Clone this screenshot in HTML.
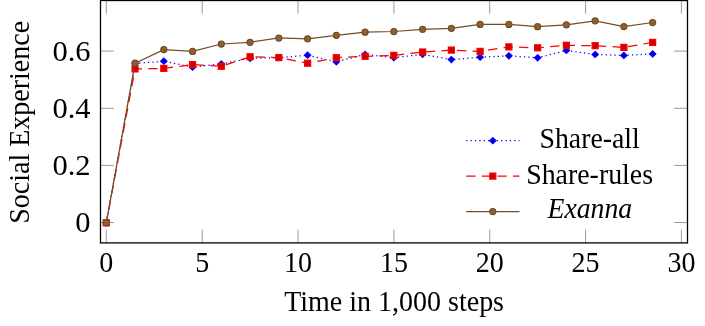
<!DOCTYPE html>
<html><head><meta charset="utf-8"><title>Social Experience</title>
<style>html,body{margin:0;padding:0;background:#fff;}body{width:705px;height:326px;overflow:hidden;position:relative;font-family:"Liberation Serif",serif;}svg{position:absolute;left:0;top:0;display:block;will-change:transform;}text{font-family:"Liberation Serif",serif;fill:#000;}</style></head><body>
<svg width="705" height="326" viewBox="0 0 705 326">
<rect x="0" y="0" width="705" height="326" fill="#fff"/>
<g stroke="#707070" stroke-width="0.7" fill="none">
<path d="M106.3 242.9V229.6M106.3 0.5V13.8"/>
<path d="M202.2 242.9V229.6M202.2 0.5V13.8"/>
<path d="M298.0 242.9V229.6M298.0 0.5V13.8"/>
<path d="M393.9 242.9V229.6M393.9 0.5V13.8"/>
<path d="M489.7 242.9V229.6M489.7 0.5V13.8"/>
<path d="M585.6 242.9V229.6M585.6 0.5V13.8"/>
<path d="M681.4 242.9V229.6M681.4 0.5V13.8"/>
<path d="M100.5 222.5H113.8M687.5 222.5H674.2"/>
<path d="M100.5 165.4H113.8M687.5 165.4H674.2"/>
<path d="M100.5 108.3H113.8M687.5 108.3H674.2"/>
<path d="M100.5 51.1H113.8M687.5 51.1H674.2"/>
</g>
<rect x="100.5" y="0.5" width="587" height="242.4" fill="none" stroke="#000" stroke-width="1.3"/>
<polyline points="106.3,222.8 135.1,63.5 163.8,61.2 192.6,67.2 221.3,63.9 250.1,58.3 278.8,57.7 307.6,55.2 336.3,61.8 365.1,54.4 393.9,57.7 422.6,54.3 451.4,59.6 480.1,57.2 508.9,55.8 537.6,57.8 566.4,50.5 595.1,54.5 623.9,55.4 652.6,53.9" fill="none" stroke="#0000ff" stroke-width="1.25" stroke-dasharray="1.25 3.12"/>
<g><polygon points="106.30,219.80 109.40,222.80 106.30,225.80 103.20,222.80" fill="#0000cc" stroke="#0000ff" stroke-width="1.25" stroke-linejoin="miter"/><polygon points="135.06,60.50 138.16,63.50 135.06,66.50 131.96,63.50" fill="#0000cc" stroke="#0000ff" stroke-width="1.25" stroke-linejoin="miter"/><polygon points="163.81,58.20 166.91,61.20 163.81,64.20 160.71,61.20" fill="#0000cc" stroke="#0000ff" stroke-width="1.25" stroke-linejoin="miter"/><polygon points="192.56,64.20 195.66,67.20 192.56,70.20 189.47,67.20" fill="#0000cc" stroke="#0000ff" stroke-width="1.25" stroke-linejoin="miter"/><polygon points="221.32,60.90 224.42,63.90 221.32,66.90 218.22,63.90" fill="#0000cc" stroke="#0000ff" stroke-width="1.25" stroke-linejoin="miter"/><polygon points="250.07,55.30 253.17,58.30 250.07,61.30 246.97,58.30" fill="#0000cc" stroke="#0000ff" stroke-width="1.25" stroke-linejoin="miter"/><polygon points="278.83,54.70 281.93,57.70 278.83,60.70 275.73,57.70" fill="#0000cc" stroke="#0000ff" stroke-width="1.25" stroke-linejoin="miter"/><polygon points="307.59,52.20 310.69,55.20 307.59,58.20 304.49,55.20" fill="#0000cc" stroke="#0000ff" stroke-width="1.25" stroke-linejoin="miter"/><polygon points="336.34,58.80 339.44,61.80 336.34,64.80 333.24,61.80" fill="#0000cc" stroke="#0000ff" stroke-width="1.25" stroke-linejoin="miter"/><polygon points="365.10,51.40 368.20,54.40 365.10,57.40 362.00,54.40" fill="#0000cc" stroke="#0000ff" stroke-width="1.25" stroke-linejoin="miter"/><polygon points="393.85,54.70 396.95,57.70 393.85,60.70 390.75,57.70" fill="#0000cc" stroke="#0000ff" stroke-width="1.25" stroke-linejoin="miter"/><polygon points="422.61,51.30 425.71,54.30 422.61,57.30 419.50,54.30" fill="#0000cc" stroke="#0000ff" stroke-width="1.25" stroke-linejoin="miter"/><polygon points="451.36,56.60 454.46,59.60 451.36,62.60 448.26,59.60" fill="#0000cc" stroke="#0000ff" stroke-width="1.25" stroke-linejoin="miter"/><polygon points="480.12,54.20 483.22,57.20 480.12,60.20 477.02,57.20" fill="#0000cc" stroke="#0000ff" stroke-width="1.25" stroke-linejoin="miter"/><polygon points="508.87,52.80 511.97,55.80 508.87,58.80 505.77,55.80" fill="#0000cc" stroke="#0000ff" stroke-width="1.25" stroke-linejoin="miter"/><polygon points="537.62,54.80 540.73,57.80 537.62,60.80 534.52,57.80" fill="#0000cc" stroke="#0000ff" stroke-width="1.25" stroke-linejoin="miter"/><polygon points="566.38,47.50 569.48,50.50 566.38,53.50 563.28,50.50" fill="#0000cc" stroke="#0000ff" stroke-width="1.25" stroke-linejoin="miter"/><polygon points="595.13,51.50 598.24,54.50 595.13,57.50 592.03,54.50" fill="#0000cc" stroke="#0000ff" stroke-width="1.25" stroke-linejoin="miter"/><polygon points="623.89,52.40 626.99,55.40 623.89,58.40 620.79,55.40" fill="#0000cc" stroke="#0000ff" stroke-width="1.25" stroke-linejoin="miter"/><polygon points="652.64,50.90 655.75,53.90 652.64,56.90 649.54,53.90" fill="#0000cc" stroke="#0000ff" stroke-width="1.25" stroke-linejoin="miter"/></g>
<polyline points="106.3,222.8 135.1,68.9 163.8,68.4 192.6,64.6 221.3,66.3 250.1,56.8 278.8,57.6 307.6,63.2 336.3,57.7 365.1,56.3 393.9,55.4 422.6,52.0 451.4,50.1 480.1,51.4 508.9,46.9 537.6,47.8 566.4,45.3 595.1,45.7 623.9,47.4 652.6,42.4" fill="none" stroke="#ff0000" stroke-width="1.25" stroke-dasharray="9.36 6.24" stroke-dashoffset="1.9"/>
<g><rect x="103.30" y="219.80" width="6.00" height="6.00" fill="#cc0000" stroke="#ff0000" stroke-width="1.25"/><rect x="132.06" y="65.90" width="6.00" height="6.00" fill="#cc0000" stroke="#ff0000" stroke-width="1.25"/><rect x="160.81" y="65.40" width="6.00" height="6.00" fill="#cc0000" stroke="#ff0000" stroke-width="1.25"/><rect x="189.56" y="61.60" width="6.00" height="6.00" fill="#cc0000" stroke="#ff0000" stroke-width="1.25"/><rect x="218.32" y="63.30" width="6.00" height="6.00" fill="#cc0000" stroke="#ff0000" stroke-width="1.25"/><rect x="247.07" y="53.80" width="6.00" height="6.00" fill="#cc0000" stroke="#ff0000" stroke-width="1.25"/><rect x="275.83" y="54.60" width="6.00" height="6.00" fill="#cc0000" stroke="#ff0000" stroke-width="1.25"/><rect x="304.59" y="60.20" width="6.00" height="6.00" fill="#cc0000" stroke="#ff0000" stroke-width="1.25"/><rect x="333.34" y="54.70" width="6.00" height="6.00" fill="#cc0000" stroke="#ff0000" stroke-width="1.25"/><rect x="362.10" y="53.30" width="6.00" height="6.00" fill="#cc0000" stroke="#ff0000" stroke-width="1.25"/><rect x="390.85" y="52.40" width="6.00" height="6.00" fill="#cc0000" stroke="#ff0000" stroke-width="1.25"/><rect x="419.61" y="49.00" width="6.00" height="6.00" fill="#cc0000" stroke="#ff0000" stroke-width="1.25"/><rect x="448.36" y="47.10" width="6.00" height="6.00" fill="#cc0000" stroke="#ff0000" stroke-width="1.25"/><rect x="477.12" y="48.40" width="6.00" height="6.00" fill="#cc0000" stroke="#ff0000" stroke-width="1.25"/><rect x="505.87" y="43.90" width="6.00" height="6.00" fill="#cc0000" stroke="#ff0000" stroke-width="1.25"/><rect x="534.62" y="44.80" width="6.00" height="6.00" fill="#cc0000" stroke="#ff0000" stroke-width="1.25"/><rect x="563.38" y="42.30" width="6.00" height="6.00" fill="#cc0000" stroke="#ff0000" stroke-width="1.25"/><rect x="592.13" y="42.70" width="6.00" height="6.00" fill="#cc0000" stroke="#ff0000" stroke-width="1.25"/><rect x="620.89" y="44.40" width="6.00" height="6.00" fill="#cc0000" stroke="#ff0000" stroke-width="1.25"/><rect x="649.64" y="39.40" width="6.00" height="6.00" fill="#cc0000" stroke="#ff0000" stroke-width="1.25"/></g>
<polyline points="106.3,222.8 135.1,63.1 163.8,49.6 192.6,51.4 221.3,44.0 250.1,42.3 278.8,38.0 307.6,38.8 336.3,35.3 365.1,32.2 393.9,31.5 422.6,29.3 451.4,28.3 480.1,24.4 508.9,24.4 537.6,26.7 566.4,24.8 595.1,20.8 623.9,26.5 652.6,22.5" fill="none" stroke="#734d26" stroke-width="1.25"/>
<g><circle cx="106.30" cy="222.80" r="3.0" fill="#996633" stroke="#734d26" stroke-width="1.25"/><path d="M104.18 220.68L108.42 224.92M104.18 224.92L108.42 220.68" stroke="#734d26" stroke-width="0.75" fill="none" opacity="0.6"/><circle cx="135.06" cy="63.10" r="3.0" fill="#996633" stroke="#734d26" stroke-width="1.25"/><path d="M132.93 60.98L137.18 65.22M132.93 65.22L137.18 60.98" stroke="#734d26" stroke-width="0.75" fill="none" opacity="0.6"/><circle cx="163.81" cy="49.60" r="3.0" fill="#996633" stroke="#734d26" stroke-width="1.25"/><path d="M161.69 47.48L165.93 51.72M161.69 51.72L165.93 47.48" stroke="#734d26" stroke-width="0.75" fill="none" opacity="0.6"/><circle cx="192.56" cy="51.40" r="3.0" fill="#996633" stroke="#734d26" stroke-width="1.25"/><path d="M190.44 49.28L194.69 53.52M190.44 53.52L194.69 49.28" stroke="#734d26" stroke-width="0.75" fill="none" opacity="0.6"/><circle cx="221.32" cy="44.00" r="3.0" fill="#996633" stroke="#734d26" stroke-width="1.25"/><path d="M219.20 41.88L223.44 46.12M219.20 46.12L223.44 41.88" stroke="#734d26" stroke-width="0.75" fill="none" opacity="0.6"/><circle cx="250.07" cy="42.30" r="3.0" fill="#996633" stroke="#734d26" stroke-width="1.25"/><path d="M247.95 40.18L252.20 44.42M247.95 44.42L252.20 40.18" stroke="#734d26" stroke-width="0.75" fill="none" opacity="0.6"/><circle cx="278.83" cy="38.00" r="3.0" fill="#996633" stroke="#734d26" stroke-width="1.25"/><path d="M276.71 35.88L280.95 40.12M276.71 40.12L280.95 35.88" stroke="#734d26" stroke-width="0.75" fill="none" opacity="0.6"/><circle cx="307.59" cy="38.80" r="3.0" fill="#996633" stroke="#734d26" stroke-width="1.25"/><path d="M305.46 36.68L309.71 40.92M305.46 40.92L309.71 36.68" stroke="#734d26" stroke-width="0.75" fill="none" opacity="0.6"/><circle cx="336.34" cy="35.30" r="3.0" fill="#996633" stroke="#734d26" stroke-width="1.25"/><path d="M334.22 33.18L338.46 37.42M334.22 37.42L338.46 33.18" stroke="#734d26" stroke-width="0.75" fill="none" opacity="0.6"/><circle cx="365.10" cy="32.20" r="3.0" fill="#996633" stroke="#734d26" stroke-width="1.25"/><path d="M362.97 30.08L367.22 34.32M362.97 34.32L367.22 30.08" stroke="#734d26" stroke-width="0.75" fill="none" opacity="0.6"/><circle cx="393.85" cy="31.50" r="3.0" fill="#996633" stroke="#734d26" stroke-width="1.25"/><path d="M391.73 29.38L395.97 33.62M391.73 33.62L395.97 29.38" stroke="#734d26" stroke-width="0.75" fill="none" opacity="0.6"/><circle cx="422.61" cy="29.30" r="3.0" fill="#996633" stroke="#734d26" stroke-width="1.25"/><path d="M420.48 27.18L424.73 31.42M420.48 31.42L424.73 27.18" stroke="#734d26" stroke-width="0.75" fill="none" opacity="0.6"/><circle cx="451.36" cy="28.30" r="3.0" fill="#996633" stroke="#734d26" stroke-width="1.25"/><path d="M449.24 26.18L453.48 30.42M449.24 30.42L453.48 26.18" stroke="#734d26" stroke-width="0.75" fill="none" opacity="0.6"/><circle cx="480.12" cy="24.40" r="3.0" fill="#996633" stroke="#734d26" stroke-width="1.25"/><path d="M477.99 22.28L482.24 26.52M477.99 26.52L482.24 22.28" stroke="#734d26" stroke-width="0.75" fill="none" opacity="0.6"/><circle cx="508.87" cy="24.40" r="3.0" fill="#996633" stroke="#734d26" stroke-width="1.25"/><path d="M506.75 22.28L510.99 26.52M506.75 26.52L510.99 22.28" stroke="#734d26" stroke-width="0.75" fill="none" opacity="0.6"/><circle cx="537.62" cy="26.70" r="3.0" fill="#996633" stroke="#734d26" stroke-width="1.25"/><path d="M535.50 24.58L539.75 28.82M535.50 28.82L539.75 24.58" stroke="#734d26" stroke-width="0.75" fill="none" opacity="0.6"/><circle cx="566.38" cy="24.80" r="3.0" fill="#996633" stroke="#734d26" stroke-width="1.25"/><path d="M564.26 22.68L568.50 26.92M564.26 26.92L568.50 22.68" stroke="#734d26" stroke-width="0.75" fill="none" opacity="0.6"/><circle cx="595.13" cy="20.80" r="3.0" fill="#996633" stroke="#734d26" stroke-width="1.25"/><path d="M593.01 18.68L597.26 22.92M593.01 22.92L597.26 18.68" stroke="#734d26" stroke-width="0.75" fill="none" opacity="0.6"/><circle cx="623.89" cy="26.50" r="3.0" fill="#996633" stroke="#734d26" stroke-width="1.25"/><path d="M621.77 24.38L626.01 28.62M621.77 28.62L626.01 24.38" stroke="#734d26" stroke-width="0.75" fill="none" opacity="0.6"/><circle cx="652.64" cy="22.50" r="3.0" fill="#996633" stroke="#734d26" stroke-width="1.25"/><path d="M650.52 20.38L654.77 24.62M650.52 24.62L654.77 20.38" stroke="#734d26" stroke-width="0.75" fill="none" opacity="0.6"/></g>
<path d="M466.2 140.7H519.5" stroke="#0000ff" stroke-width="1.25" stroke-dasharray="1.25 3.12" fill="none"/><polygon points="492.80,137.70 495.90,140.70 492.80,143.70 489.70,140.70" fill="#0000cc" stroke="#0000ff" stroke-width="1.25" stroke-linejoin="miter"/>
<path d="M466.2 176.1H519.5" stroke="#ff0000" stroke-width="1.25" stroke-dasharray="9.36 6.24" fill="none"/><rect x="489.80" y="173.10" width="6.00" height="6.00" fill="#cc0000" stroke="#ff0000" stroke-width="1.25"/>
<path d="M466.2 211.6H519.5" stroke="#734d26" stroke-width="1.25" fill="none"/><circle cx="492.80" cy="211.60" r="3.0" fill="#996633" stroke="#734d26" stroke-width="1.25"/><path d="M490.68 209.48L494.92 213.72M490.68 213.72L494.92 209.48" stroke="#734d26" stroke-width="0.75" fill="none" opacity="0.6"/>
<text transform="translate(589.6 148.3) scale(0.992 1.06)" font-size="28" text-anchor="middle">Share-all</text>
<text transform="translate(589.6 183.9) scale(0.996 1.06)" font-size="28" text-anchor="middle">Share-rules</text>
<text transform="translate(589.8 217.9) scale(0.99 1.06)" font-size="28" text-anchor="middle" font-style="italic">Exanna</text>
<text transform="translate(90.6 231.9) scale(1.09 1.04)" font-size="28" text-anchor="end">0</text>
<text transform="translate(90.6 174.8) scale(1.09 1.04)" font-size="28" text-anchor="end">0.2</text>
<text transform="translate(90.6 117.7) scale(1.09 1.04)" font-size="28" text-anchor="end">0.4</text>
<text transform="translate(90.6 60.5) scale(1.09 1.04)" font-size="28" text-anchor="end">0.6</text>
<text transform="translate(106.3 272.4) scale(1.0 1.04)" font-size="28" text-anchor="middle">0</text>
<text transform="translate(202.2 272.4) scale(1.0 1.04)" font-size="28" text-anchor="middle">5</text>
<text transform="translate(298.0 272.4) scale(1.0 1.04)" font-size="28" text-anchor="middle">10</text>
<text transform="translate(393.9 272.4) scale(1.0 1.04)" font-size="28" text-anchor="middle">15</text>
<text transform="translate(489.7 272.4) scale(1.0 1.04)" font-size="28" text-anchor="middle">20</text>
<text transform="translate(585.6 272.4) scale(1.0 1.04)" font-size="28" text-anchor="middle">25</text>
<text transform="translate(681.4 272.4) scale(1.0 1.04)" font-size="28" text-anchor="middle">30</text>
<text transform="translate(394.1 310.7) scale(1.0 1.06)" font-size="28" text-anchor="middle">Time in 1,000 steps</text>
<text transform="translate(28.6 122.3) rotate(-90) scale(1 1.06)" font-size="28" text-anchor="middle">Social Experience</text>
</svg></body></html>
